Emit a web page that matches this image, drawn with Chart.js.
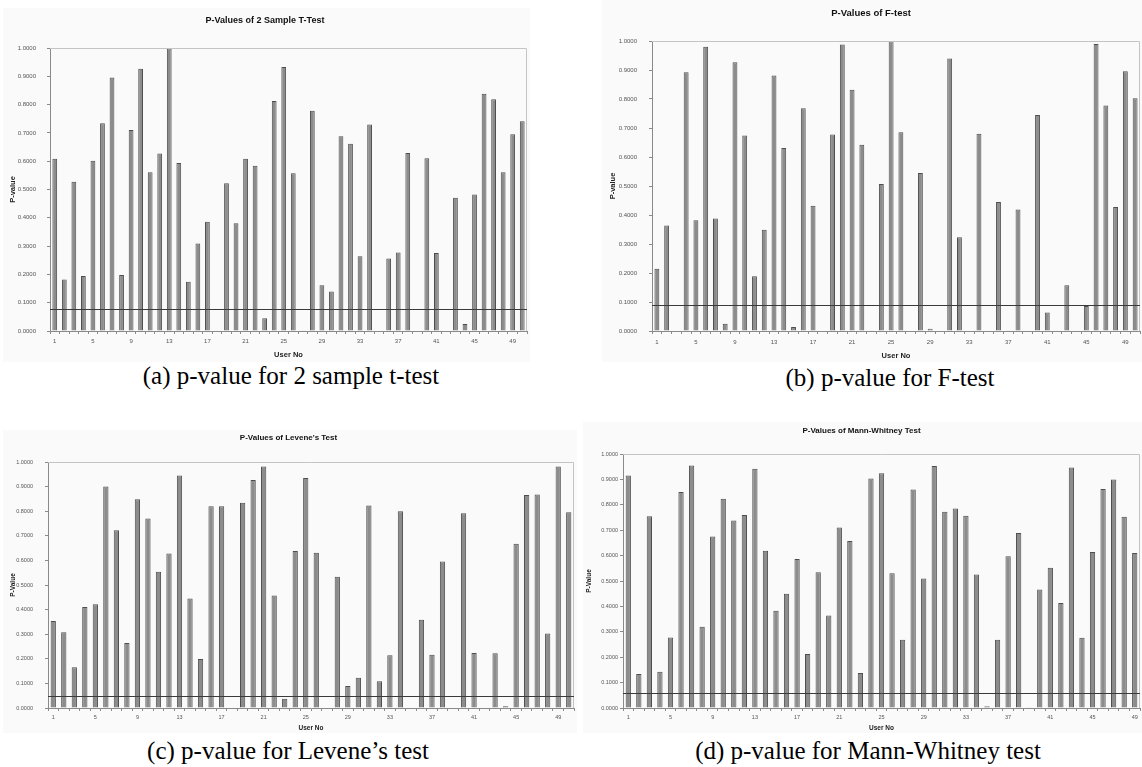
<!DOCTYPE html>
<html>
<head>
<meta charset="utf-8">
<script src="https://cdn.jsdelivr.net/npm/chart.js@4.4.1/dist/chart.umd.min.js"></script>
<style>
  html, body { margin: 0; padding: 0; background: #fff; }
  body { position: relative; width: 1142px; height: 767px; overflow: hidden; }
  canvas { position: absolute; background: #fafafa; }
  .cap { position: absolute; font-family: "Liberation Serif", "Times New Roman", serif;
         font-size: 25px; line-height: 25px; color: #000; text-align: center; white-space: nowrap; }
</style>
</head>
<body>
<canvas id="chartA" width="527" height="354" style="left:3px;top:8px"></canvas>
<canvas id="chartB" width="540" height="362" style="left:602px;top:0px"></canvas>
<canvas id="chartC" width="574" height="303" style="left:3px;top:430px"></canvas>
<canvas id="chartD" width="559" height="311" style="left:583px;top:422px"></canvas>

<div class="cap" style="left:141px;top:363px;width:300px">(a) p-value for 2 sample t-test</div>
<div class="cap" style="left:740px;top:365px;width:300px">(b) p-value for F-test</div>
<div class="cap" style="left:88px;top:738px;width:400px">(c) p-value for Levene’s test</div>
<div class="cap" style="left:668px;top:738px;width:400px">(d) p-value for Mann-Whitney test</div>

<script>
// User numbers on the x axis
const userNo = [1,2,3,4,5,6,7,8,9,10,11,12,13,14,15,16,17,18,19,20,21,22,23,24,25,
                26,27,28,29,30,31,32,33,34,35,36,37,38,39,40,41,42,43,44,45,46,47,48,49,50];
const userNoD = [1,2,3,4,5,6,7,8,9,10,11,12,13,14,15,16,17,18,19,20,21,22,23,24,25,
                 26,27,28,29,30,31,32,33,34,35,36,37,38,39,40,41,42,43,44,45,46,47,48,49];

// p-values
const tTestP = [0.609,0.182,0.527,0.194,0.602,0.734,0.896,0.198,0.710,0.927,
                0.561,0.627,0.998,0.594,0.174,0.309,0.386,0,0.522,0.381,
                0.609,0.584,0.045,0.813,0.933,0.557,0.003,0.778,0.162,0.140,
                0.688,0.662,0.264,0.730,0,0.256,0.277,0.629,0,0.610,
                0.276,0.002,0.471,0.025,0.482,0.838,0.819,0.561,0.695,0.741];
const fTestP = [0.215,0.364,0,0.892,0.382,0.980,0.388,0.025,0.927,0.674,
                0.189,0.349,0.881,0.631,0.014,0.768,0.432,0,0.678,0.988,
                0.832,0.642,0.003,0.507,0.999,0.685,0,0.545,0.008,0,
                0.940,0.323,0,0.680,0,0.445,0.003,0.419,0,0.745,
                0.064,0,0.158,0,0.086,0.990,0.778,0.428,0.896,0.803];
const leveneP = [0.354,0.308,0.166,0.411,0.422,0.900,0.723,0.264,0.849,0.770,
                 0.554,0.628,0.945,0.445,0.199,0.820,0.820,0,0.834,0.927,
                 0.982,0.457,0.038,0.638,0.935,0.631,0,0.534,0.089,0.123,
                 0.823,0.109,0.214,0.800,0,0.359,0.216,0.596,0,0.792,
                 0.224,0,0.223,0.007,0.668,0.866,0.868,0.303,0.982,0.796];
const mannP = [0.915,0.134,0.755,0.143,0.278,0.850,0.955,0.320,0.675,0.824,
               0.738,0.760,0.942,0.619,0.383,0.450,0.587,0.213,0.534,0.364,
               0.711,0.657,0.138,0.904,0.924,0.531,0.269,0.860,0.510,0.953,
               0.773,0.785,0.757,0.526,0.007,0.269,0.597,0.689,0.003,0.467,
               0.552,0.413,0.947,0.277,0.614,0.862,0.900,0.753,0.610];

// horizontal reference lines
const tTestLevel = 0.077;
const fTestLevel = 0.090;
const leveneLevel = 0.050;
const mannLevel = 0.060;

const yTicks = [0, 0.1, 0.2, 0.3, 0.4, 0.5, 0.6, 0.7, 0.8, 0.9, 1.0];

Chart.defaults.font.family = '"Liberation Sans", Arial, sans-serif';
Chart.defaults.animation = false;

// plot-area border (top/right) and the reference line
const framePlugin = {
    id: 'frame',
    afterDatasetsDraw(chart, args, opts) {
        const { ctx, chartArea: a, scales: { y } } = chart;
        ctx.save();
        ctx.lineWidth = 1;
        ctx.strokeStyle = '#c4c4c4';
        ctx.beginPath();
        ctx.moveTo(a.left, a.top + 0.5);
        ctx.lineTo(a.right - 0.5, a.top + 0.5);
        ctx.lineTo(a.right - 0.5, a.bottom);
        ctx.stroke();
        const py = Math.round(y.getPixelForValue(opts.level)) + 0.5;
        ctx.strokeStyle = '#3a3a3a';
        ctx.beginPath();
        ctx.moveTo(a.left, py);
        ctx.lineTo(a.right, py);
        ctx.stroke();
        ctx.restore();
    }
};

function makeChart(id, p) {
    const labels = p.labels;
    return new Chart(document.getElementById(id), {
        type: 'bar',
        data: {
            labels: labels,
            datasets: [{
                data: p.values,
                backgroundColor: '#8c8c8c',
                borderColor: '#4e4e4e',
                borderWidth: 1,
                barPercentage: 0.5,
                categoryPercentage: 1
            }]
        },
        plugins: [framePlugin],
        options: {
            responsive: false,
            layout: { padding: { left: 0, right: p.padRight, top: 0, bottom: 0 } },
            plugins: {
                legend: { display: false },
                tooltip: { enabled: false },
                frame: { level: p.level },
                title: {
                    display: true,
                    text: p.title,
                    color: '#111',
                    font: { size: p.titleSize, weight: 'bold' },
                    padding: { top: p.titleTop, bottom: p.titleBottom }
                }
            },
            scales: {
                x: {
                    afterFit: s => { s.height = p.xHeight; },
                    grid: { display: true, drawOnChartArea: false, drawTicks: true,
                            tickLength: 3, color: '#8a8a8a', offset: true },
                    border: { color: '#8a8a8a', width: 1 },
                    ticks: {
                        autoSkip: false, maxRotation: 0, minRotation: 0,
                        padding: p.xPad, color: '#555',
                        font: { size: p.tickSize },
                        callback: function (v, i) { return i % 4 === 0 ? String(this.getLabelForValue(v)) : ''; }
                    },
                    title: {
                        display: true, text: 'User No', color: '#222',
                        font: { size: p.axisSize, weight: 'bold' },
                        padding: { top: 0, bottom: p.xTitlePad }
                    }
                },
                y: {
                    min: 0, max: 1,
                    afterFit: s => { s.width = p.yWidth; },
                    afterBuildTicks: s => { s.ticks = yTicks.map(v => ({ value: v })); },
                    grid: { display: true, drawOnChartArea: false, drawTicks: true,
                            tickLength: 3, color: '#8a8a8a' },
                    border: { color: '#8a8a8a', width: 1 },
                    ticks: {
                        padding: p.yPad, color: '#555',
                        font: { size: p.tickSize },
                        callback: v => Number(v).toFixed(4)
                    },
                    title: {
                        display: true, text: p.yTitle, color: '#222',
                        font: { size: p.axisSize, weight: 'bold' },
                        padding: { top: p.yTitlePad, bottom: 0 }
                    }
                }
            }
        }
    });
}

makeChart('chartA', {
    labels: userNo, values: tTestP, level: tTestLevel,
    title: 'P-Values of 2 Sample T-Test', titleSize: 9, titleTop: 7.6, titleBottom: 21.6,
    yTitle: 'P-value', axisSize: 7.5, tickSize: 6,
    yWidth: 47, yPad: 11, yTitlePad: 5.8,
    xHeight: 31, xPad: 4, xTitlePad: 2.2, padRight: 3
});
makeChart('chartB', {
    labels: userNo, values: fTestP, level: fTestLevel,
    title: 'P-Values of F-test', titleSize: 9.5, titleTop: 7.3, titleBottom: 22.3,
    yTitle: 'P-value', axisSize: 7.5, tickSize: 6,
    yWidth: 50, yPad: 12, yTitlePad: 6.8,
    xHeight: 31, xPad: 5, xTitlePad: 1.2, padRight: 2
});
makeChart('chartC', {
    labels: userNo, values: leveneP, level: leveneLevel,
    title: "P-Values of Levene's Test", titleSize: 8, titleTop: 3.2, titleBottom: 19.2,
    yTitle: 'P-Value', axisSize: 6.5, tickSize: 5.5,
    yWidth: 45, yPad: 12, yTitlePad: 6.1,
    xHeight: 25, xPad: 3, xTitlePad: 0.5, padRight: 3
});
makeChart('chartD', {
    labels: userNoD, values: mannP, level: mannLevel,
    title: 'P-Values of Mann-Whitney Test', titleSize: 8, titleTop: 4.2, titleBottom: 18.2,
    yTitle: 'P-Value', axisSize: 6.5, tickSize: 5.5,
    yWidth: 40, yPad: 2, yTitlePad: 2.1,
    xHeight: 25, xPad: 3, xTitlePad: 0.5, padRight: 2
});
</script>
</body>
</html>
